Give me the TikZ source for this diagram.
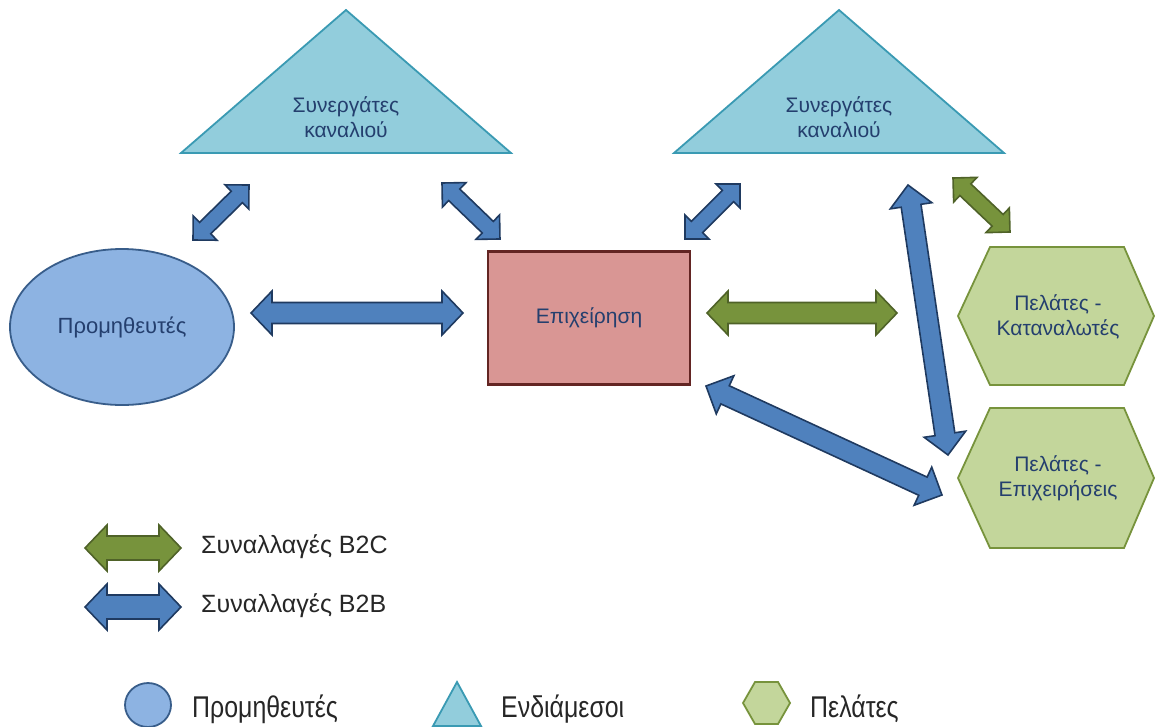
\documentclass[tikz,border=0pt]{standalone}
\usepackage{fontspec}
\setmainfont{Liberation Sans}
\newfontfamily\legendfont[FakeStretch=0.83]{Liberation Sans}
\usetikzlibrary{calc,shapes.geometric}

\definecolor{bluefill}{HTML}{4F81BD}
\definecolor{blueline}{HTML}{1F3A60}
\definecolor{greenfill}{HTML}{77933C}
\definecolor{greenline}{HTML}{4F6228}
\definecolor{trifill}{HTML}{92CDDC}
\definecolor{triline}{HTML}{3A9AB3}
\definecolor{ellfill}{HTML}{8DB3E2}
\definecolor{ellline}{HTML}{385D8A}
\definecolor{rectfill}{HTML}{D99694}
\definecolor{rectline}{HTML}{632523}
\definecolor{hexfill}{HTML}{C3D69B}
\definecolor{hexline}{HTML}{77933C}
\definecolor{labeltext}{HTML}{243F6E}

% double-headed block arrow: style, from, to, shaft half-width, head half-width, head length
\newcommand\blockarrow[6]{%
  \draw[#1] let \p1=($(#3)-(#2)$), \n1={veclen(\x1,\y1)}, \n2={atan2(\y1,\x1)} in
    [shift={(#2)}, rotate=\n2]
    (0,0) -- (#6,#5) -- (#6,#4) -- (\n1-#6,#4) -- (\n1-#6,#5) -- (\n1,0)
    -- (\n1-#6,-#5) -- (\n1-#6,-#4) -- (#6,-#4) -- (#6,-#5) -- cycle;
}

\begin{document}
\begin{tikzpicture}[x=1pt,y=-1pt,
  blue arrow/.style={fill=bluefill,draw=blueline,line width=1.6pt,line join=miter},
  green arrow/.style={fill=greenfill,draw=greenline,line width=1.6pt,line join=miter},
  tri/.style={fill=trifill,draw=triline,line width=1.8pt,line join=miter},
  hex/.style={fill=hexfill,draw=hexline,line width=1.8pt,line join=miter},
  lbl/.style={text=labeltext,align=center,font=\fontsize{21}{25}\selectfont},
  legend text/.style={text=black!85,anchor=base west,inner sep=0pt,font=\fontsize{25}{30}\selectfont},
  key text/.style={text=black!85,anchor=base west,inner sep=0pt,font=\legendfont\fontsize{30}{34}\selectfont},
]
\useasboundingbox (0,0) rectangle (1155,726);

% channel partners (triangles)
\draw[tri] (181,153) -- (346,10) -- (511,153) -- cycle;
\node[lbl] (partnersL) at (346,117) {Συνεργάτες\\καναλιού};
\draw[tri] (674,153) -- (839,10) -- (1004,153) -- cycle;
\node[lbl] (partnersR) at (839,117) {Συνεργάτες\\καναλιού};

% suppliers
\node[ellipse,fill=ellfill,draw=ellline,line width=1.8pt,
      minimum width=224pt,minimum height=156pt,lbl,font=\fontsize{22}{26}\selectfont] (supplier) at (122,327) {Προμηθευτές};

% the enterprise
\node[rectangle,fill=rectfill,draw=rectline,line width=2.6pt,
      minimum width=202pt,minimum height=133pt,lbl] (firm) at (589,318) {Επιχείρηση};

% customers (hexagons)
\draw[hex] (958,316) -- (990,247) -- (1124,247) -- (1154,316) -- (1124,385) -- (990,385) -- cycle;
\node[lbl] (consumers) at (1058,317) {Πελάτες -\\Καταναλωτές};
\draw[hex] (958,478) -- (990,408) -- (1124,408) -- (1154,478) -- (1124,548) -- (990,548) -- cycle;
\node[lbl] (businesses) at (1058,478) {Πελάτες -\\Επιχειρήσεις};

% arrow end points
\coordinate (sf1) at (251,313);   \coordinate (sf2) at (463,313);
\coordinate (fc1) at (707,313);   \coordinate (fc2) at (897,313);
\coordinate (sp1) at (193,240);   \coordinate (sp2) at (249,185);
\coordinate (pf1) at (442,183);   \coordinate (pf2) at (500,239);
\coordinate (fp1) at (685,239);   \coordinate (fp2) at (740,184);
\coordinate (pc1) at (953,178);   \coordinate (pc2) at (1010,232);
\coordinate (pb1) at (908,185);   \coordinate (pb2) at (948,455);
\coordinate (fb1) at (706,386);   \coordinate (fb2) at (942,495);

\blockarrow{blue arrow}{sf1}{sf2}{10.5}{22}{21}
\blockarrow{green arrow}{fc1}{fc2}{10.5}{22}{21}
\blockarrow{blue arrow}{sp1}{sp2}{8}{17}{17}
\blockarrow{blue arrow}{pf1}{pf2}{8}{17}{17}
\blockarrow{blue arrow}{fp1}{fp2}{8}{17}{17}
\blockarrow{green arrow}{pc1}{pc2}{8}{17}{17}
\blockarrow{blue arrow}{pb1}{pb2}{10}{21}{21}
\blockarrow{blue arrow}{fb1}{fb2}{10}{21}{21}

% legend: transaction types
\coordinate (lg1) at (85,548);   \coordinate (lg2) at (181,548);
\coordinate (lb1) at (85,607);   \coordinate (lb2) at (181,607);
\blockarrow{green arrow}{lg1}{lg2}{12}{23}{22}
\blockarrow{blue arrow}{lb1}{lb2}{12}{23}{22}
\node[legend text] (b2c) at (201,553) {Συναλλαγές B2C};
\node[legend text] (b2b) at (201,612) {Συναλλαγές B2B};

% legend: participant types
\node[ellipse,fill=ellfill,draw=ellline,line width=1.8pt,
      minimum width=46pt,minimum height=44pt,inner sep=0pt] (legSup) at (148,705) {};
\node[key text] (legSupTxt) at (192,717) {Προμηθευτές};
\draw[tri] (433,726) -- (457,682) -- (481,726) -- cycle;
\node[key text] (legMidTxt) at (501,717) {Ενδιάμεσοι};
\draw[hex] (743,703) -- (755,682) -- (778,682) -- (790,703) -- (778,724) -- (755,724) -- cycle;
\node[key text] (legCusTxt) at (810,717) {Πελάτες};
\end{tikzpicture}
\end{document}
